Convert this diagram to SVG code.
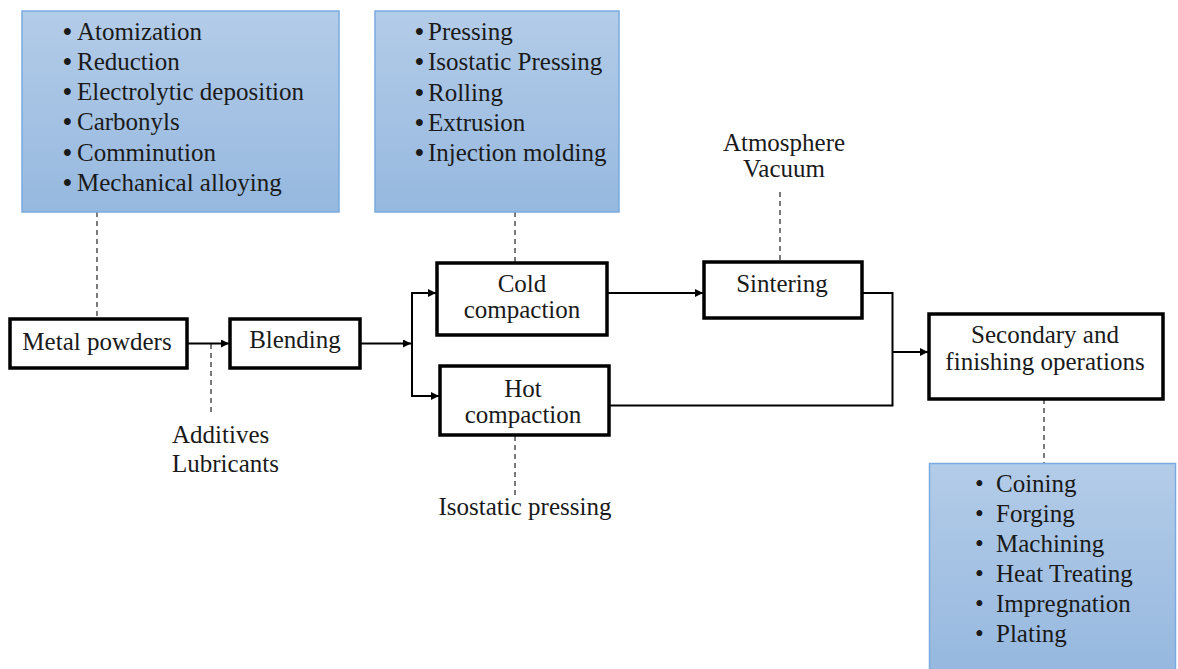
<svg xmlns="http://www.w3.org/2000/svg" width="1178" height="669" viewBox="0 0 1178 669">
<style>
text{font-family:"Liberation Serif","Times New Roman",serif;font-size:25px;fill:#1a1a1a}
.c{text-anchor:middle}
.b{font-weight:bold}
.blue{fill:url(#g);stroke:#7aaae0;stroke-width:1.5}
.node{fill:#fff;stroke:#000;stroke-width:3.5}
.ln{fill:none;stroke:#000;stroke-width:2}
.ds{fill:none;stroke:#333;stroke-width:1.3;stroke-dasharray:5,4}
</style>
<defs>
<linearGradient id="g" x1="0" y1="0" x2="0" y2="1">
<stop offset="0" stop-color="#b3cce8"/>
<stop offset="1" stop-color="#96b8df"/>
</linearGradient>
<marker id="a" viewBox="0 0 10 10" refX="10" refY="5" markerWidth="10" markerHeight="8" markerUnits="userSpaceOnUse" orient="auto">
<path d="M0,0 L10,5 L0,10 z" fill="#000"/>
</marker>
</defs>

<g id="connectors">
<line class="ds" x1="97" y1="212" x2="97" y2="319"/>
<line class="ds" x1="515" y1="212" x2="515" y2="262"/>
<line class="ds" x1="780" y1="192" x2="780" y2="262"/>
<line class="ds" x1="211" y1="344" x2="211" y2="416"/>
<line class="ds" x1="515" y1="436" x2="515" y2="497"/>
<line class="ds" x1="1044" y1="399" x2="1044" y2="463"/>
<line class="ln" x1="187" y1="343.5" x2="229" y2="343.5" marker-end="url(#a)"/>
<line class="ln" x1="360" y1="343.5" x2="411" y2="343.5" marker-end="url(#a)"/>
<polyline class="ln" points="420,293 412,293 412,396 420,396"/>
<line class="ln" x1="412" y1="293" x2="436" y2="293" marker-end="url(#a)"/>
<line class="ln" x1="412" y1="396" x2="439" y2="396" marker-end="url(#a)"/>
<line class="ln" x1="607" y1="293" x2="703" y2="293" marker-end="url(#a)"/>
<polyline class="ln" points="862,293 892.5,293 892.5,405.5 609,405.5"/>
<line class="ln" x1="892.5" y1="352" x2="928" y2="352" marker-end="url(#a)"/>
</g>

<g id="powder-methods">
<rect class="blue" x="22" y="11" width="317" height="201"/>
<text y="40"><tspan class="b" x="63">•</tspan><tspan x="77">Atomization</tspan></text>
<text y="70"><tspan class="b" x="63">•</tspan><tspan x="77">Reduction</tspan></text>
<text y="100"><tspan class="b" x="63">•</tspan><tspan x="77">Electrolytic deposition</tspan></text>
<text y="130"><tspan class="b" x="63">•</tspan><tspan x="77">Carbonyls</tspan></text>
<text y="161"><tspan class="b" x="63">•</tspan><tspan x="77">Comminution</tspan></text>
<text y="191"><tspan class="b" x="63">•</tspan><tspan x="77">Mechanical alloying</tspan></text>
</g>

<g id="compaction-methods">
<rect class="blue" x="375" y="11" width="244" height="201"/>
<text y="40"><tspan class="b" x="415">•</tspan><tspan x="428">Pressing</tspan></text>
<text y="70"><tspan class="b" x="415">•</tspan><tspan x="428">Isostatic Pressing</tspan></text>
<text y="101"><tspan class="b" x="415">•</tspan><tspan x="428">Rolling</tspan></text>
<text y="131"><tspan class="b" x="415">•</tspan><tspan x="428">Extrusion</tspan></text>
<text y="161"><tspan class="b" x="415">•</tspan><tspan x="428">Injection molding</tspan></text>
</g>

<g id="sinter-conditions">
<text class="c" x="784" y="151">Atmosphere</text>
<text class="c" x="784" y="177">Vacuum</text>
</g>

<g id="metal-powders">
<rect class="node" x="10" y="319" width="177" height="49"/>
<text class="c" x="97" y="350">Metal powders</text>
</g>

<g id="blending">
<rect class="node" x="230" y="319" width="130" height="49"/>
<text class="c" x="295" y="348">Blending</text>
</g>

<g id="additives">
<text x="172" y="443">Additives</text>
<text x="172" y="472">Lubricants</text>
</g>

<g id="cold-compaction">
<rect class="node" x="437" y="263" width="170" height="72"/>
<text class="c" x="522" y="292">Cold</text>
<text class="c" x="522" y="318">compaction</text>
</g>

<g id="hot-compaction">
<rect class="node" x="440" y="366" width="169" height="69"/>
<text class="c" x="523" y="397">Hot</text>
<text class="c" x="523" y="423">compaction</text>
</g>

<g id="isostatic">
<text class="c" x="525" y="515">Isostatic pressing</text>
</g>

<g id="sintering">
<rect class="node" x="704" y="262" width="158" height="56"/>
<text class="c" x="782" y="292">Sintering</text>
</g>

<g id="secondary">
<rect class="node" x="929" y="314" width="234" height="85"/>
<text class="c" x="1045" y="343">Secondary and</text>
<text class="c" x="1045" y="370">finishing operations</text>
</g>

<g id="finishing-list">
<rect class="blue" x="929.5" y="463.5" width="246" height="210"/>
<text y="492"><tspan x="975">•</tspan><tspan x="996">Coining</tspan></text>
<text y="522"><tspan x="975">•</tspan><tspan x="996">Forging</tspan></text>
<text y="552"><tspan x="975">•</tspan><tspan x="996">Machining</tspan></text>
<text y="582"><tspan x="975">•</tspan><tspan x="996">Heat Treating</tspan></text>
<text y="612"><tspan x="975">•</tspan><tspan x="996">Impregnation</tspan></text>
<text y="642"><tspan x="975">•</tspan><tspan x="996">Plating</tspan></text>
</g>
</svg>
